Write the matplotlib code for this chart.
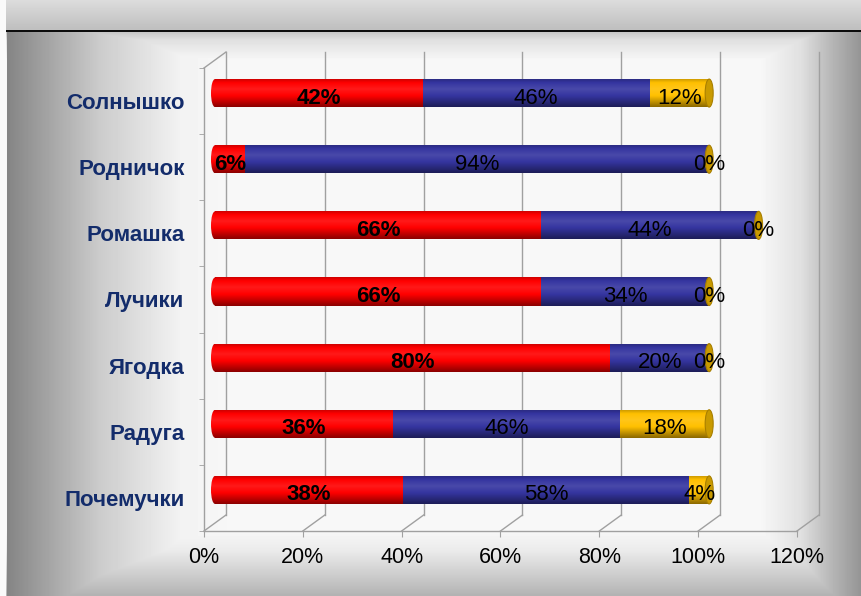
import numpy as np
import matplotlib
matplotlib.use("Agg")
import matplotlib.pyplot as plt
from matplotlib.patches import Ellipse
from matplotlib.colors import to_rgb

plt.rcParams["font.family"] = ["Liberation Sans", "DejaVu Sans"]

categories = ["Солнышко", "Родничок", "Ромашка", "Лучики", "Ягодка", "Радуга", "Почемучки"]
red_values = [42, 6, 66, 66, 80, 36, 38]
blue_values = [46, 94, 44, 34, 20, 46, 58]
yellow_values = [12, 0, 0, 0, 0, 18, 4]
x_ticks = [0, 20, 40, 60, 80, 100, 120]
x_tick_labels = ["0%", "20%", "40%", "60%", "80%", "100%", "120%"]

SERIES = [
    (red_values, "#ff0000", "bold"),
    (blue_values, "#3535a0", "normal"),
    (yellow_values, "#ffc000", "normal"),
]
GRID = "#a0a0a0"
W, H = 862, 596


def background():
    """Серый фон с виньеткой и полосой заголовка сверху."""
    xs = np.arange(W)
    ys = np.arange(H)
    hprof = np.interp(xs, [0, 6, 7, 40, 100, 180, 230, 760, 800, 830, 861],
                      [0.98, 0.98, 0.52, 0.62, 0.80, 0.95, 0.97, 0.97, 0.88, 0.72, 0.58])
    vprof = np.interp(ys, [32, 40, 60, 530, 550, 575, 595],
                      [0.78, 0.88, 0.97, 0.97, 0.92, 0.80, 0.70])
    bg = np.minimum(hprof[None, :], vprof[:, None])
    bg[:30, :] = np.interp(np.arange(30), [0, 29], [0.86, 0.75])[:, None]
    bg[30:32, :] = 0.05
    bg[:, :6] = 0.98
    return bg


def cylinder(color, n=40):
    c = np.array(to_rgb(color))
    t = np.linspace(0, 1, n)
    shade = np.interp(t, [0, 0.12, 0.35, 0.6, 1.0], [0.82, 1.0, 1.1, 1.0, 0.55])
    light = c[None, :] + (1 - c[None, :]) * (shade[:, None] - 1)
    dark = c[None, :] * shade[:, None]
    rows = np.where(shade[:, None] > 1, light, dark)
    return np.clip(rows, 0, 1)[:, None, :]


fig = plt.figure(figsize=(W / 100, H / 100), dpi=100)
bg_ax = fig.add_axes([0, 0, 1, 1])
bg_ax.imshow(background(), cmap="gray", vmin=0, vmax=1, aspect="auto", interpolation="bilinear")
bg_ax.axis("off")

ax = fig.add_axes([204 / W, 65 / H, 593 / W, 463 / H])
ax.patch.set_alpha(0)
for s in ax.spines.values():
    s.set_visible(False)

px_x = ax.bbox.width / 120
px_y = ax.bbox.height / 7
DX = 22 / px_x
DY = 16 / px_y
n = len(categories)
top, bottom = -0.5, n - 0.5

# стенки и сетка
line_kw = dict(color=GRID, lw=1, clip_on=False, zorder=1)
ax.plot([0, 0], [top, bottom], **line_kw)
ax.plot([0, 120], [bottom, bottom], **line_kw)
ax.plot([0, DX], [top, top - DY], **line_kw)
for t in x_ticks:
    ax.plot([t, t + DX], [bottom, bottom - DY], **line_kw)
    ax.plot([t + DX, t + DX], [top - DY, bottom - DY], **line_kw)

# цилиндры
bar_h = 28 / px_y
cap = 4 / px_x
for i in range(n):
    yc = i - DY / 2
    y_ext = [yc + bar_h / 2, yc - bar_h / 2]
    # скруглённый левый край с тем же градиентом
    left_cap = Ellipse((DX / 2, yc), 2 * cap, bar_h, transform=ax.transData)
    im = ax.imshow(cylinder(SERIES[0][1]), extent=[DX / 2 - cap, DX / 2 + 0.1] + y_ext,
                   aspect="auto", interpolation="bilinear", zorder=3)
    im.set_clip_path(left_cap)
    left = 0
    for values, color, weight in SERIES:
        w = values[i]
        if w > 0:
            ax.imshow(cylinder(color), extent=[left + DX / 2, left + w + DX / 2] + y_ext,
                      aspect="auto", interpolation="bilinear", zorder=3)
        ax.text(left + w / 2 + DX / 2, yc + 5 / px_y, f"{w}%", ha="center", va="center",
                fontsize=16, fontweight=weight, color="black", zorder=5)
        left += w
    ax.add_patch(Ellipse((left + DX / 2, yc), 2 * cap, bar_h, facecolor="#c99a00",
                         edgecolor="#a87f00", lw=0.8, zorder=4))

ax.set_xlim(0, 120)
ax.set_ylim(bottom, top)
ax.set_xticks(x_ticks, x_tick_labels, fontsize=15.5)
ax.tick_params(axis="x", length=4.3, color=GRID, pad=7)
ax.set_yticks(range(n), categories, fontsize=16, fontweight="bold", color="#132c6b")
ax.tick_params(axis="y", which="major", length=0, pad=14)
ax.set_yticks(np.arange(top, bottom + 0.1, 1), minor=True)
ax.tick_params(axis="y", which="minor", length=3.6, color=GRID)

fig.savefig("out.png", dpi=100)
